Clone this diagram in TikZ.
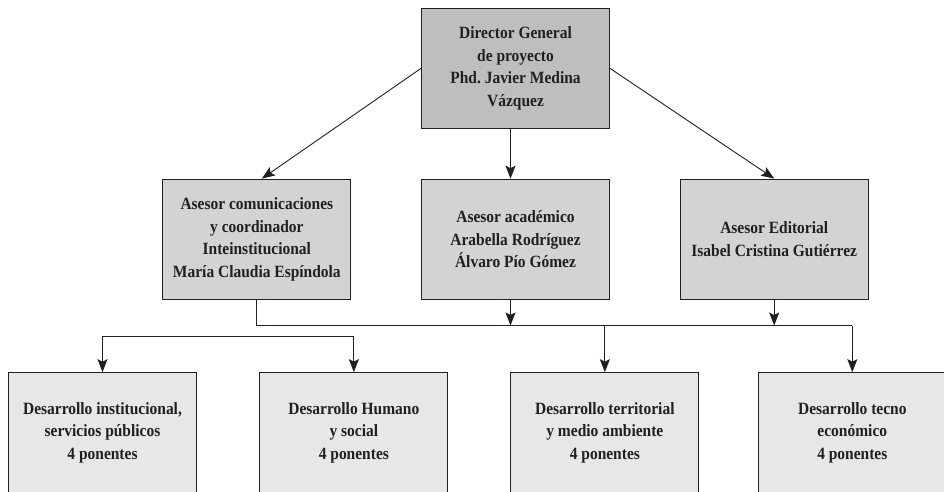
\documentclass[tikz,border=0pt]{standalone}
\usepackage{fontspec}
\setmainfont{Liberation Serif}[FakeStretch=0.9]
\usetikzlibrary{arrows.meta}
\definecolor{ink}{HTML}{231F20}
\definecolor{dirfill}{HTML}{BCBEC0}
\definecolor{midfill}{HTML}{D1D3D4}
\definecolor{botfill}{HTML}{E6E7E8}
\tikzset{
  box/.style={draw=ink, line width=1.1pt, rectangle, minimum width=188pt, minimum height=120pt,
    inner sep=0pt, align=center, text=ink, font=\frenchspacing\bfseries\fontsize{17.2}{22.5}\selectfont},
  dirbox/.style={box, fill=dirfill},
  midbox/.style={box, fill=midfill},
  botbox/.style={box, fill=botfill},
  conn/.style={draw=ink, line width=0.9pt},
  arr/.style={conn, -{Stealth[length=13pt, width=10pt, inset=2.5pt]}},
}
\begin{document}
\begin{tikzpicture}[x=1pt, y=-1pt]
\useasboundingbox (0,0) rectangle (944,492);
\clip (0,0) rectangle (944,492);
\node[dirbox] (dir) at (515.5,68.4) {Director General\\de proyecto\\Phd.\ Javier Medina\\Vázquez};
\node[midbox] (a1) at (256.85,239.2) {Asesor comunicaciones\\y coordinador\\Inteinstitucional\\María Claudia Espíndola};
\node[midbox] (a2) at (515.5,239.2) {Asesor académico\\Arabella Rodríguez\\Álvaro Pío Gómez};
\node[midbox] (a3) at (774.2,239.2) {Asesor Editorial\\Isabel Cristina Gutiérrez};
\node[botbox] (b1) at (102.5,432.7) {Desarrollo institucional,\\servicios públicos\\4 ponentes};
\node[botbox] (b2) at (353.85,432.7) {Desarrollo Humano\\y social\\4 ponentes};
\node[botbox] (b3) at (604.85,432.7) {Desarrollo territorial\\y medio ambiente\\4 ponentes};
\node[botbox] (b4) at (852.3,432.7) {Desarrollo tecno\\económico\\4 ponentes};
\coordinate (bus) at (0,325.5);
\coordinate (br) at (0,336);
% director to advisers
\draw[arr] (dir.west) -- ([xshift=5pt]a1.north);
\draw[arr] ([xshift=-5pt]dir.south) -- ([xshift=-5pt]a2.north);
\draw[arr] (dir.east) -- (a3.north);
% bus line
\draw[conn] (a1.south) -- (a1.south |- bus) -- (b4.north |- bus);
\draw[arr] (b4.north |- bus) -- (b4.north);
\draw[arr] ([xshift=-5pt]a2.south) -- ([xshift=-5pt]a2.south |- bus);
\draw[arr] (a3.south) -- (a3.south |- bus);
\draw[arr] (b3.north |- bus) -- (b3.north);
% left bracket
\draw[conn] (b1.north |- br) -- (b2.north |- br);
\draw[arr] (b1.north |- br) -- (b1.north);
\draw[arr] (b2.north |- br) -- (b2.north);
\end{tikzpicture}
\end{document}
